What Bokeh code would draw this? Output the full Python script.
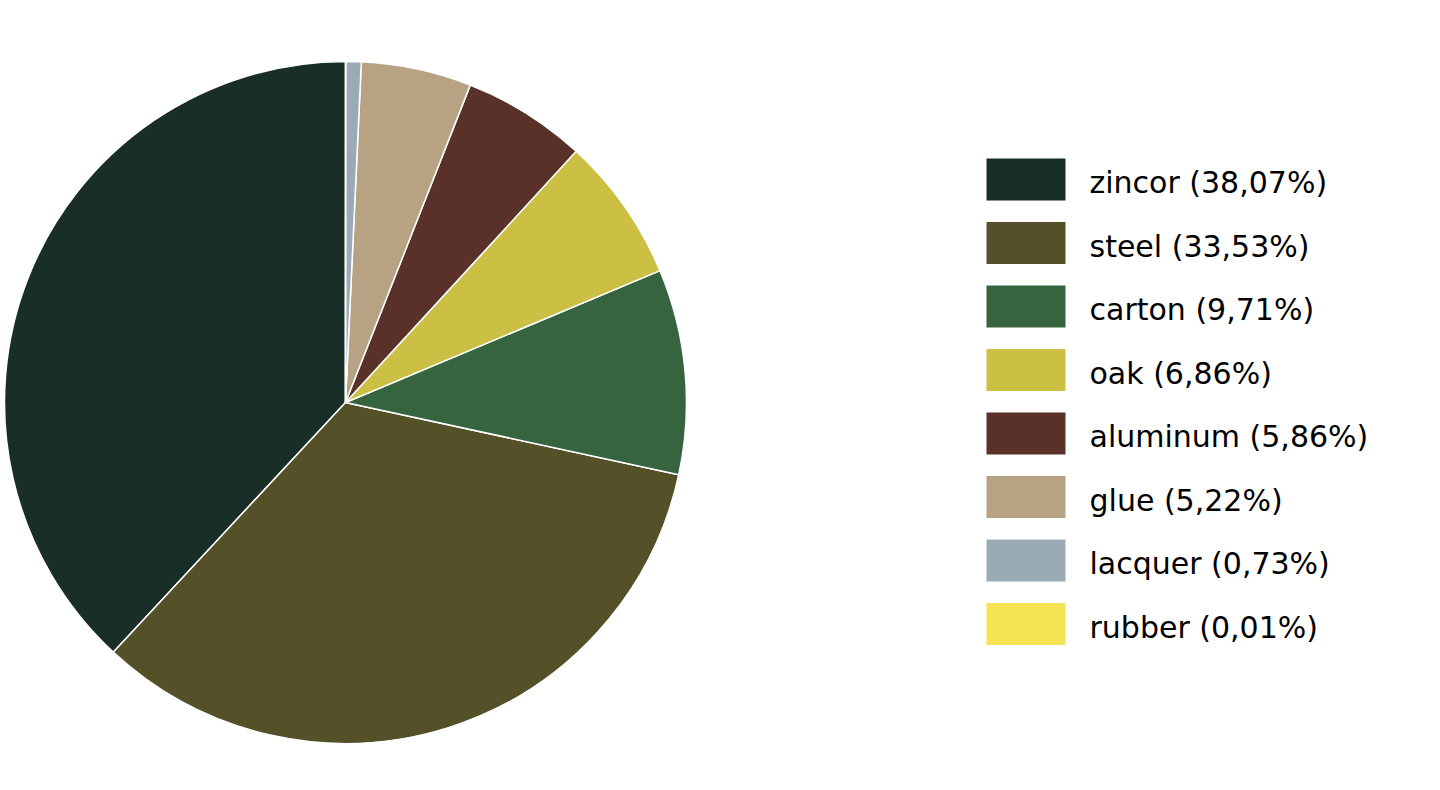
from math import pi

from bokeh.plotting import figure
from bokeh.models import ColumnDataSource, Range1d
from bokeh.core.properties import value
from bokeh.embed import file_html
from bokeh.resources import INLINE

# Material shares (percent)
materials = ["zincor", "steel", "carton", "oak", "aluminum", "glue", "lacquer", "rubber"]
shares = [38.07, 33.53, 9.71, 6.86, 5.86, 5.22, 0.73, 0.01]
colors = ["#182e26", "#545129", "#36643f", "#cbbf44", "#5a3129", "#b8a284", "#9aabb6", "#f6e353"]

W, H = 1440, 790
p = figure(width=W, height=H, output_backend="svg", toolbar_location=None,
           x_range=Range1d(0, W), y_range=Range1d(0, H), min_border=0)
p.axis.visible = False
p.grid.visible = False
p.outline_line_color = None
p.background_fill_color = "white"

# Pie slices, counterclockwise from 12 o'clock
total = sum(shares)
starts, ends = [], []
acc = 0.0
for s in shares:
    starts.append(pi / 2 + 2 * pi * acc / total)
    acc += s
    ends.append(pi / 2 + 2 * pi * acc / total)

pie_src = ColumnDataSource(dict(start=starts, end=ends, color=colors))
cx, cy, r = 345, H - 402, 341
p.wedge(x=cx, y=cy, radius=r, start_angle="start", end_angle="end",
        fill_color="color", line_color="white", line_width=1.5, source=pie_src)

# Legend: swatches and labels, one row per material
labels = [f"{m} ({s:.2f}%)".replace(".", ",") for m, s in zip(materials, shares)]
swatch_y = [H - (179 + i * 63.5) for i in range(len(materials))]
label_y = [y - 3 for y in swatch_y]
leg_src = ColumnDataSource(dict(sy=swatch_y, ly=label_y, color=colors, label=labels))
p.rect(x=1025.5, y="sy", width=79, height=42, fill_color="color",
       line_color=None, source=leg_src)
p.text(x=1089, y="ly", text="label", text_font=value("DejaVu Sans"),
       text_font_size="30px", text_font_style="normal", text_color="black",
       text_baseline="middle", text_align="left", source=leg_src)

open("out.html", "w").write(file_html(p, INLINE))
